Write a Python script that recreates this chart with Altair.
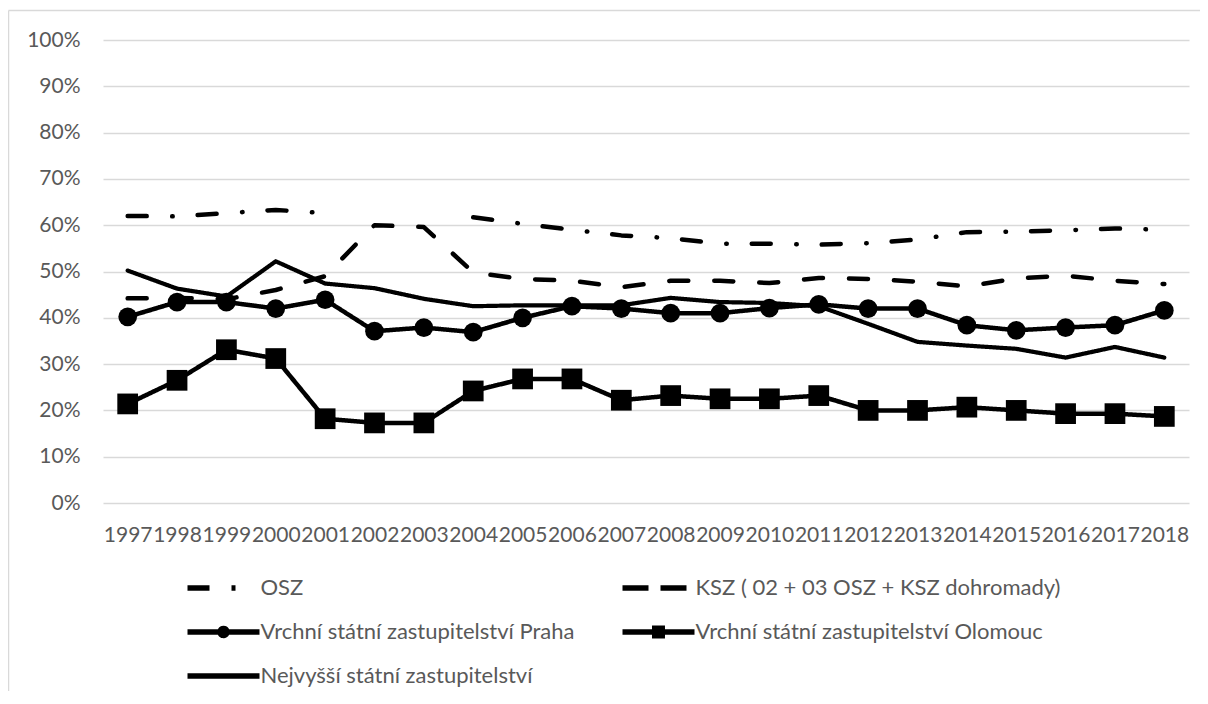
import altair as alt
import pandas as pd

years = [str(y) for y in range(1997, 2019)]

osz = [62.0, 61.9, 62.6, 63.3, 62.6, None, None, 61.7, 60.3, 59.0, 57.8, 57.2,
       56.0, 56.0, 55.8, 56.1, 56.9, 58.5, 58.6, 58.9, 59.3, 59.0]
ksz = [44.2, 44.3, 44.0, 46.0, 49.0, 60.0, 59.6, 49.8, 48.4, 48.0, 46.6, 48.0,
       48.0, 47.5, 48.6, 48.4, 47.8, 46.8, 48.5, 49.1, 48.0, 47.3]
praha = [40.2, 43.4, 43.4, 42.0, 43.9, 37.1, 37.9, 36.9, 40.0, 42.5, 42.0, 41.0,
         41.0, 42.1, 42.9, 42.0, 42.0, 38.4, 37.3, 37.9, 38.4, 41.6]
olomouc = [21.4, 26.5, 33.1, 31.2, 18.2, 17.3, 17.3, 24.2, 26.8, 26.8, 22.2, 23.2,
           22.5, 22.5, 23.2, 20.0, 20.0, 20.7, 20.0, 19.3, 19.3, 18.7]
nsz = [50.2, 46.3, 44.6, 52.2, 47.4, 46.4, 44.1, 42.5, 42.7, 42.7, 42.7, 44.3,
       43.4, 43.2, 42.5, 38.7, 34.8, 34.0, 33.3, 31.4, 33.7, 31.4]

series_names = [
    "OSZ",
    "KSZ ( 02 + 03 OSZ + KSZ dohromady)",
    "Vrchní státní zastupitelství Praha",
    "Vrchní státní zastupitelství Olomouc",
    "Nejvyšší státní zastupitelství",
]
y_ticks = [0, 0.1, 0.2, 0.3, 0.4, 0.5, 0.6, 0.7, 0.8, 0.9, 1.0]

rows = []
for name, vals in zip(series_names, [osz, ksz, praha, olomouc, nsz]):
    for yr, v in zip(years, vals):
        rows.append({"year": yr, "series": name,
                     "value": None if v is None else v / 100})
df = pd.DataFrame(rows)

FONT = "Lato"
TXT = "#595959"
GRID = "#d9d9d9"

dash_osz = [19, 25.5, 0.5, 25]
dash_ksz = [19, 26]
solid = [1, 0]

x_enc = alt.X("year:O", scale=alt.Scale(type="point", padding=0.5),
              axis=alt.Axis(title=None, labelAngle=0, ticks=False, tickSize=0,
                            domain=False, labelFont=FONT, labelFontSize=21,
                            labelColor=TXT, labelPadding=21, labelOverlap=False,
                            grid=False))
y_enc = alt.Y("value:Q", scale=alt.Scale(domain=[0, 1]),
              axis=alt.Axis(title=None, values=y_ticks, format=".0%", grid=True,
                            gridColor=GRID, gridWidth=1.5, domain=False,
                            ticks=False, tickSize=0, labelPadding=23,
                            labelFont=FONT, labelFontSize=21, labelColor=TXT))

base = alt.Chart(df)


def line_layer(name, dash, width):
    return base.transform_filter(
        alt.FieldEqualPredicate(field="series", equal=name)
    ).mark_line(color="black", strokeWidth=width, strokeDash=dash,
                strokeCap="round", strokeJoin="round",
                invalid="break-paths-show-domains").encode(x=x_enc, y=y_enc)


def marker_layer(name, shape, size):
    return base.transform_filter(
        alt.FieldEqualPredicate(field="series", equal=name)
    ).mark_point(shape=shape, filled=True, size=size, color="black",
                 opacity=1).encode(x=x_enc, y=y_enc)


l_osz = line_layer(series_names[0], dash_osz, 4.5)
l_ksz = line_layer(series_names[1], dash_ksz, 4.5)
l_praha = line_layer(series_names[2], solid, 4.5)
m_praha = marker_layer(series_names[2], "circle", 350)
l_olo = line_layer(series_names[3], solid, 4.5)
m_olo = marker_layer(series_names[3], "square", 430)
l_nsz = line_layer(series_names[4], solid, 4.2)

# legend symbols drawn with strokes only: a line, plus concentric rings /
# squares that together look like a solid marker
ring = ("M0.58,0A0.58,0.58,0,1,1,-0.58,0A0.58,0.58,0,1,1,0.58,0"
        "M0.18,0A0.18,0.18,0,1,1,-0.18,0A0.18,0.18,0,1,1,0.18,0")
box = "M-0.62,-0.62H0.62V0.62H-0.62ZM-0.2,-0.2H0.2V0.2H-0.2Z"
path_by_series = {
    series_names[0]: "M-6,0H2",
    series_names[1]: "M-6,0H6",
    series_names[2]: "M-6,0H6" + ring,
    series_names[3]: "M-6,0H6" + box,
    series_names[4]: "M-6,0H6",
}
dash_by_series = {
    series_names[0]: [22, 22, 5, 30],
    series_names[1]: [26, 12],
    series_names[2]: solid,
    series_names[3]: solid,
    series_names[4]: solid,
}
# legend fills column by column: order entries so they read row by row
legend_order = [series_names[i] for i in (0, 2, 4, 1, 3)]
legend_paths = [path_by_series[s] for s in legend_order]
legend_dashes = [dash_by_series[s] for s in legend_order]

leg = alt.Legend(
    title=None, orient="none", legendX=82, legendY=537, columns=2,
    columnPadding=36, rowPadding=18, symbolSize=144, symbolOffset=27.5,
    labelOffset=26, labelFont=FONT, labelFontSize=22, labelColor=TXT,
    labelLimit=600, padding=0,
    symbolStrokeColor="black", symbolStrokeWidth=5.5, symbolOpacity=1,
)

legend_layer = base.transform_filter("false").mark_point(
    filled=False, color="black", strokeWidth=5.5, opacity=1
).encode(
    x=x_enc, y=y_enc,
    shape=alt.Shape("series:N", scale=alt.Scale(domain=legend_order,
                                                range=legend_paths), legend=leg),
    strokeDash=alt.StrokeDash("series:N",
                              scale=alt.Scale(domain=legend_order,
                                              range=legend_dashes), legend=leg),
)

frame_src = alt.Chart(pd.DataFrame({"k": [0]}))
frame_top = frame_src.mark_rule(color=GRID, strokeWidth=1.5).encode(
    x=alt.value(-94.5), x2=alt.value(1300), y=alt.value(-29.5))
frame_left = frame_src.mark_rule(color=GRID, strokeWidth=1.5).encode(
    x=alt.value(-94.5), y=alt.value(-29.5), y2=alt.value(800))

chart = alt.layer(
    frame_top, frame_left, legend_layer,
    l_osz, l_ksz, l_praha, m_praha, l_olo, m_olo, l_nsz,
).properties(
    width=1086, height=463,
    autosize=alt.AutoSizeParams(type="none"),
    padding={"left": 95, "top": 32, "right": 11, "bottom": 188},
    background="white",
).configure_view(stroke=None)

chart.save("out.html", embed_options={"renderer": "svg", "actions": False})
